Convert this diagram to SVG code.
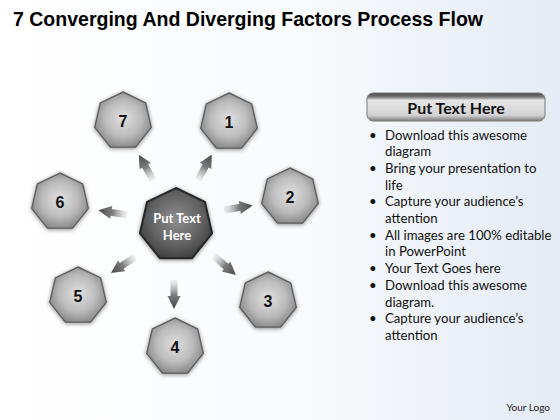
<svg xmlns="http://www.w3.org/2000/svg" width="560" height="420" viewBox="0 0 560 420">
<defs>
<linearGradient id="bg" x1="0" y1="0" x2="1" y2="0">
<stop offset="0" stop-color="#ffffff"/>
<stop offset="0.55" stop-color="#f8fafc"/>
<stop offset="1" stop-color="#e4ebf4"/>
</linearGradient>
<radialGradient id="small" cx="50%" cy="48%" r="58%">
<stop offset="0" stop-color="#e0e0e0"/>
<stop offset="0.55" stop-color="#bcbcbc"/>
<stop offset="1" stop-color="#808080"/>
</radialGradient>
<radialGradient id="big" cx="50%" cy="45%" r="60%">
<stop offset="0" stop-color="#8e8e8e"/>
<stop offset="0.6" stop-color="#626262"/>
<stop offset="1" stop-color="#3a3a3a"/>
</radialGradient>
<linearGradient id="arr" x1="0" y1="0" x2="1" y2="0">
<stop offset="0" stop-color="#cfcfcf" stop-opacity="0.3"/>
<stop offset="0.5" stop-color="#7e7e7e"/>
<stop offset="1" stop-color="#474747"/>
</linearGradient>
<linearGradient id="hdr" x1="0" y1="0" x2="0" y2="1">
<stop offset="0" stop-color="#444"/>
<stop offset="0.14" stop-color="#777"/>
<stop offset="0.26" stop-color="#e6e6e6"/>
<stop offset="0.8" stop-color="#d2d2d2"/>
<stop offset="1" stop-color="#7a7a7a"/>
</linearGradient>
<filter id="sh" x="-30%" y="-30%" width="160%" height="160%">
<feGaussianBlur in="SourceAlpha" stdDeviation="2"/>
<feOffset dx="0" dy="1" result="b"/>
<feComponentTransfer><feFuncA type="linear" slope="0.45"/></feComponentTransfer>
<feMerge><feMergeNode/><feMergeNode in="SourceGraphic"/></feMerge>
</filter>
<polygon id="hep" points="0,-29 22.67,-18.08 28.27,6.45 12.58,26.13 -12.58,26.13 -28.27,6.45 -22.67,-18.08"/>
<path id="ar" d="M0,-3.5 L16,-3.5 L16,-6.5 L29,0 L16,6.5 L16,3.5 L0,3.5 Z"/>
</defs>
<style>
.sm{fill:url(#small);stroke:#5e5e5e;stroke-width:1.4;filter:url(#sh)}
.num{font-family:"Liberation Sans",Arial,sans-serif;font-weight:bold;font-size:16px;fill:#111;text-anchor:middle}
.a{fill:url(#arr)}
.bl{font-family:Lato,"Liberation Sans",sans-serif;font-size:13.2px;fill:#111}
</style>
<rect width="560" height="420" fill="url(#bg)"/>
<text x="13" y="26" font-family="Liberation Sans,Arial,sans-serif" font-weight="bold" font-size="20.5" textLength="470" lengthAdjust="spacingAndGlyphs" fill="#000">7 Converging And Diverging Factors Process Flow</text>

<g id="connectors">
<use href="#ar" class="a" transform="translate(153,180) rotate(-119.2)"/>
<use href="#ar" class="a" transform="translate(198,180) rotate(-61.7)"/>
<use href="#ar" class="a" transform="translate(224,210) rotate(-8.9)"/>
<use href="#ar" class="a" transform="translate(214,256) rotate(41)"/>
<use href="#ar" class="a" transform="translate(174,280) rotate(90)"/>
<use href="#ar" class="a" transform="translate(135,257) rotate(146.3)"/>
<use href="#ar" class="a" transform="translate(127,215) rotate(189.5)"/>
</g>

<g id="center">
<polygon points="176,188 204.93,201.93 212.07,233.23 192.05,258.34 159.95,258.34 139.93,233.23 147.07,201.93" fill="url(#big)" stroke="#262626" stroke-width="2" filter="url(#sh)"/>
<text x="177" y="223" font-family="Lato,'Liberation Sans',sans-serif" font-weight="bold" font-size="13" fill="#fff" text-anchor="middle">Put Text</text>
<text x="177" y="240" font-family="Lato,'Liberation Sans',sans-serif" font-weight="bold" font-size="13" fill="#fff" text-anchor="middle">Here</text>
</g>

<g id="node1"><use href="#hep" class="sm" x="229" y="122"/><text class="num" x="229" y="127.5">1</text></g>
<g id="node2"><use href="#hep" class="sm" x="290" y="197"/><text class="num" x="290" y="202.5">2</text></g>
<g id="node3"><use href="#hep" class="sm" x="268" y="301"/><text class="num" x="268" y="306.5">3</text></g>
<g id="node4"><use href="#hep" class="sm" x="175" y="347"/><text class="num" x="175" y="352.5">4</text></g>
<g id="node5"><use href="#hep" class="sm" x="78" y="296"/><text class="num" x="78" y="301.5">5</text></g>
<g id="node6"><use href="#hep" class="sm" x="60" y="202"/><text class="num" x="60" y="207.5">6</text></g>
<g id="node7"><use href="#hep" class="sm" x="123" y="121"/><text class="num" x="123" y="126.5">7</text></g>

<g id="panel">
<rect x="367" y="93" width="178" height="28" rx="6" fill="url(#hdr)" stroke="#7a7a7a" stroke-width="1"/>
<text x="456" y="114" font-family="Lato,'Liberation Sans',sans-serif" font-weight="bold" font-size="16" fill="#111" text-anchor="middle">Put Text Here</text>
<g class="bl">
<text x="369" y="139.5">•</text><text x="385" y="139.5">Download this awesome</text>
<text x="385" y="156.2">diagram</text>
<text x="369" y="172.9">•</text><text x="385" y="172.9">Bring your presentation to</text>
<text x="385" y="189.6">life</text>
<text x="369" y="206.3">•</text><text x="385" y="206.3">Capture your audience’s</text>
<text x="385" y="223">attention</text>
<text x="369" y="239.7">•</text><text x="385" y="239.7">All images are 100% editable</text>
<text x="385" y="256.4">in PowerPoint</text>
<text x="369" y="273.1">•</text><text x="385" y="273.1">Your Text Goes here</text>
<text x="369" y="289.8">•</text><text x="385" y="289.8">Download this awesome</text>
<text x="385" y="306.5">diagram.</text>
<text x="369" y="323.2">•</text><text x="385" y="323.2">Capture your audience’s</text>
<text x="385" y="339.9">attention</text>
</g>
<text x="550" y="411" font-family="Lato,'Liberation Sans',sans-serif" font-size="10" fill="#222" text-anchor="end">Your Logo</text>
</g>
</svg>
